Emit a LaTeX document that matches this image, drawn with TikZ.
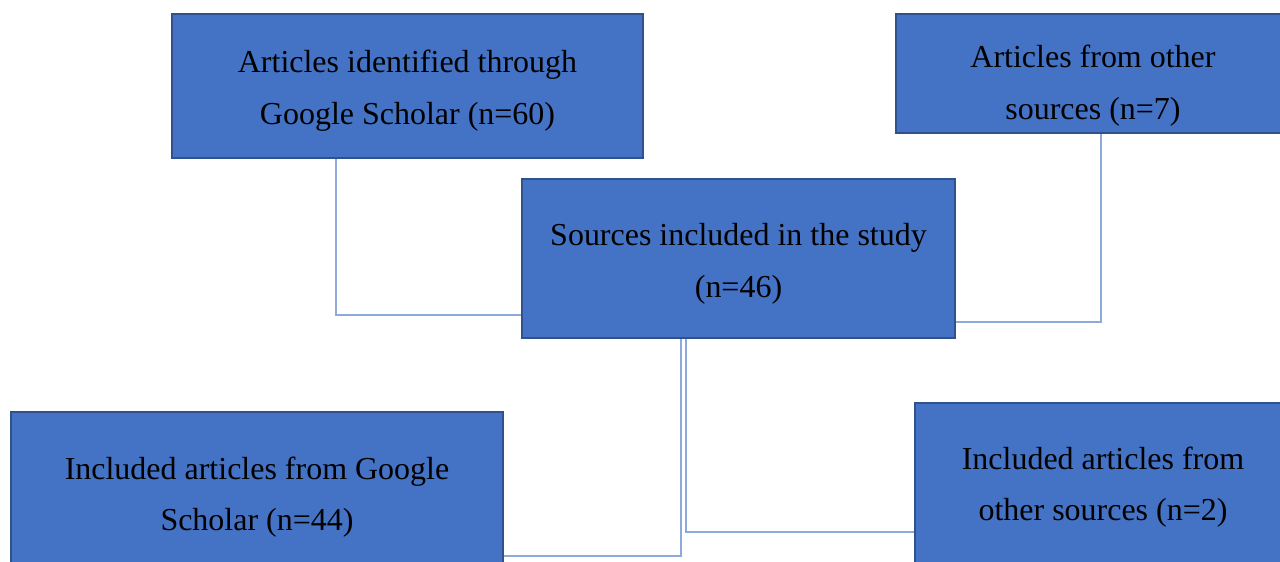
\documentclass[tikz,border=0pt]{standalone}
\usepackage{fontspec}
\setmainfont{Liberation Serif}
\usetikzlibrary{backgrounds}
\definecolor{boxfill}{HTML}{4472C4}
\definecolor{boxline}{HTML}{2F528F}
\definecolor{linkc}{HTML}{8EA9DB}
\newcommand{\topstrut}[1]{\rule{0pt}{#1}}
\tikzset{
  box/.style={rectangle, draw=boxline, line width=0.9pt, fill=boxfill, text=black,
    align=center, inner sep=0pt,
    font=\fontsize{18.2pt}{29.5pt}\selectfont},
  link/.style={draw=linkc, line width=1.1pt}
}
\begin{document}
\begin{tikzpicture}[x=0.02cm,y=-0.02cm]
\useasboundingbox (0,0) rectangle (1280,561);
\clip (0,0) rectangle (1280,561);
\node[box, minimum width=9.42cm, minimum height=2.88cm] (A) at (407.5,86) {\topstrut{18pt}Articles identified through\\Google Scholar (n=60)};
\node[box, minimum width=7.88cm, minimum height=2.38cm] (B) at (1093,73.5) {\topstrut{26.5pt}Articles from other\\sources (n=7)};
\node[box, minimum width=8.66cm, minimum height=3.18cm] (C) at (738.5,258.5) {\topstrut{18.5pt}Sources included in the study\\(n=46)};
\node[box, minimum width=9.84cm, minimum height=3.28cm] (D) at (257,494) {\topstrut{16.3pt}Included articles from Google\\Scholar (n=44)};
\node[box, minimum width=7.52cm, minimum height=3.24cm] (E) at (1103,484) {\topstrut{16.3pt}Included articles from\\other sources (n=2)};
\begin{scope}[on background layer]
\fill[white] (0,0) rectangle (1280,561);
\draw[link] ([xshift=-1.43cm]A.south) |- ([yshift=-1.13cm]C.west);
\draw[link] ([xshift=0.16cm]B.south) |- ([yshift=-1.27cm]C.east);
\draw[link] ([xshift=-1.15cm]C.south) |- ([yshift=-1.24cm]D.east);
\draw[link] ([xshift=-1.05cm]C.south) |- ([yshift=-0.96cm]E.west);
\end{scope}
\end{tikzpicture}
\end{document}
